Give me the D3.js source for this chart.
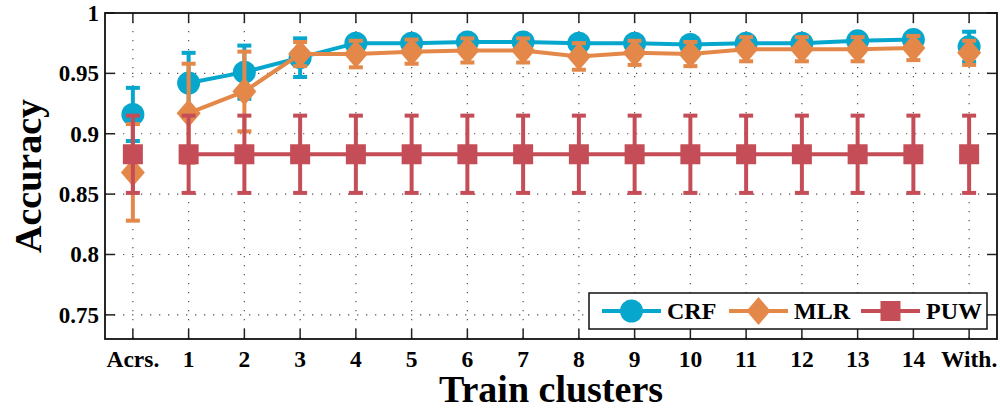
<!DOCTYPE html>
<html>
<head>
<meta charset="utf-8">
<script src="https://cdn.jsdelivr.net/npm/d3@7"></script>
<style>
  body { margin: 0; background: #fff; }
  svg text { font-family: "Liberation Serif", "DejaVu Serif", serif; font-weight: bold; }
</style>
</head>
<body>
<svg id="chart" width="1000" height="408"></svg>
<script>
// categories along the x axis
const categories = ["Acrs.", "1", "2", "3", "4", "5", "6", "7", "8", "9", "10", "11", "12", "13", "14", "With."];
const yTicks = [0.75, 0.8, 0.85, 0.9, 0.95, 1];

// mean accuracy per category
const crfValues = [0.916, 0.942, 0.951, 0.963, 0.975, 0.975, 0.976, 0.976, 0.975, 0.975, 0.974, 0.975, 0.975, 0.977, 0.978, 0.972];
const mlrValues = [0.868, 0.917, 0.935, 0.966, 0.966, 0.968, 0.969, 0.969, 0.964, 0.967, 0.966, 0.970, 0.970, 0.970, 0.971, 0.967];
const puwValues = [0.883, 0.883, 0.883, 0.883, 0.883, 0.883, 0.883, 0.883, 0.883, 0.883, 0.883, 0.883, 0.883, 0.883, 0.883, 0.883];

// error bar half widths
const crfErr = [0.022, 0.025, 0.022, 0.016, 0.004, 0.004, 0.004, 0.004, 0.004, 0.004, 0.004, 0.004, 0.004, 0.004, 0.004, 0.0125];
const mlrErr = [0.040, 0.041, 0.033, 0.010, 0.011, 0.010, 0.010, 0.010, 0.011, 0.010, 0.010, 0.010, 0.010, 0.010, 0.010, 0.010];
const puwErr = [0.032, 0.032, 0.032, 0.032, 0.032, 0.032, 0.032, 0.032, 0.032, 0.032, 0.032, 0.032, 0.032, 0.032, 0.032, 0.032];

const series = [
  { name: "CRF", values: crfValues, err: crfErr, color: "#07a7cd", marker: "circle" },
  { name: "MLR", values: mlrValues, err: mlrErr, color: "#e4884a", marker: "diamond" },
  { name: "PUW", values: puwValues, err: puwErr, color: "#c44d57", marker: "square" }
];

const margin = { top: 13, right: 3, bottom: 69, left: 105 };
const width = 1000, height = 408;
const svg = d3.select("#chart");

// x positions are category indices
const x = d3.scaleLinear()
  .domain([-0.5, categories.length - 0.5])
  .range([margin.left, width - margin.right]);
const y = d3.scaleLinear()
  .domain([0.73, 1])
  .range([height - margin.bottom, margin.top]);

const plotL = margin.left, plotR = width - margin.right;
const plotT = margin.top, plotB = height - margin.bottom;

// dotted grid
const grid = svg.append("g").attr("stroke", "#555").attr("stroke-width", 1.2)
  .attr("stroke-dasharray", "1.3,7.7");
grid.selectAll("line.h").data(yTicks.filter(d => d < 1)).enter().append("line")
  .attr("x1", plotL).attr("x2", plotR)
  .attr("y1", d => y(d)).attr("y2", d => y(d));
grid.selectAll("line.v").data(d3.range(categories.length)).enter().append("line")
  .attr("x1", d => x(d)).attr("x2", d => x(d))
  .attr("y1", plotT).attr("y2", plotB);

// tick marks, inward on all four sides
const ticks = svg.append("g").attr("stroke", "#222").attr("stroke-width", 1.5);
d3.range(categories.length).forEach(i => {
  ticks.append("line").attr("x1", x(i)).attr("x2", x(i)).attr("y1", plotB).attr("y2", plotB - 10);
  ticks.append("line").attr("x1", x(i)).attr("x2", x(i)).attr("y1", plotT).attr("y2", plotT + 10);
});
yTicks.forEach(v => {
  ticks.append("line").attr("x1", plotL).attr("x2", plotL + 10).attr("y1", y(v)).attr("y2", y(v));
  ticks.append("line").attr("x1", plotR).attr("x2", plotR - 10).attr("y1", y(v)).attr("y2", y(v));
});

// axes labels
svg.append("g").selectAll("text").data(yTicks).enter().append("text")
  .attr("x", plotL - 6).attr("y", d => y(d) + 8)
  .attr("text-anchor", "end").attr("font-size", 23)
  .text(d => d);
svg.append("g").selectAll("text").data(categories).enter().append("text")
  .attr("x", (d, i) => x(i)).attr("y", plotB + 28)
  .attr("text-anchor", "middle").attr("font-size", 23.5)
  .text(d => d);

svg.append("text")
  .attr("x", (plotL + plotR) / 2).attr("y", 402)
  .attr("text-anchor", "middle").attr("font-size", 38)
  .text("Train clusters");
svg.append("text")
  .attr("transform", `translate(41,${(plotT + plotB) / 2}) rotate(-90)`)
  .attr("text-anchor", "middle").attr("font-size", 38)
  .text("Accuracy");

// marker drawing helper
function drawMarker(g, type, cx, cy, color) {
  if (type === "circle") {
    g.append("circle").attr("cx", cx).attr("cy", cy).attr("r", 11.5).attr("fill", color);
  } else if (type === "diamond") {
    g.append("path").attr("d", `M${cx},${cy - 14}L${cx + 12},${cy}L${cx},${cy + 14}L${cx - 12},${cy}Z`)
      .attr("fill", color);
  } else {
    g.append("rect").attr("x", cx - 10).attr("y", cy - 10).attr("width", 20).attr("height", 20)
      .attr("fill", color);
  }
}

const line = d3.line().x(d => x(d.i)).y(d => y(d.v));

series.forEach(s => {
  const g = svg.append("g");
  const pts = s.values.map((v, i) => ({ i: i, v: v, e: s.err[i] }));
  // connecting line only over the numbered clusters
  g.append("path")
    .attr("d", line(pts.slice(1, categories.length - 1)))
    .attr("fill", "none").attr("stroke", s.color).attr("stroke-width", 4);
  // error bars
  pts.forEach(p => {
    const cx = x(p.i);
    g.append("line").attr("x1", cx).attr("x2", cx)
      .attr("y1", y(p.v - p.e)).attr("y2", y(p.v + p.e))
      .attr("stroke", s.color).attr("stroke-width", 4);
    [p.v - p.e, p.v + p.e].forEach(c => {
      g.append("line").attr("x1", cx - 7).attr("x2", cx + 7)
        .attr("y1", y(c)).attr("y2", y(c))
        .attr("stroke", s.color).attr("stroke-width", 4);
    });
  });
  pts.forEach(p => drawMarker(g, s.marker, x(p.i), y(p.v), s.color));
});

// frame
svg.append("rect").attr("x", plotL).attr("y", plotT)
  .attr("width", plotR - plotL).attr("height", plotB - plotT)
  .attr("fill", "none").attr("stroke", "#111").attr("stroke-width", 1.8);

// legend
const lg = svg.append("g");
lg.append("rect").attr("x", 589).attr("y", 293).attr("width", 398).attr("height", 36)
  .attr("fill", "#fff").attr("stroke", "#111").attr("stroke-width", 1.5);
const legendX = [602, 729, 861];
series.forEach((s, k) => {
  const lx = legendX[k], ly = 311;
  lg.append("line").attr("x1", lx).attr("x2", lx + 59).attr("y1", ly).attr("y2", ly)
    .attr("stroke", s.color).attr("stroke-width", 4);
  drawMarker(lg, s.marker, lx + 29.5, ly, s.color);
  lg.append("text").attr("x", lx + 65).attr("y", ly + 8).attr("font-size", 24).text(s.name);
});
</script>
</body>
</html>
